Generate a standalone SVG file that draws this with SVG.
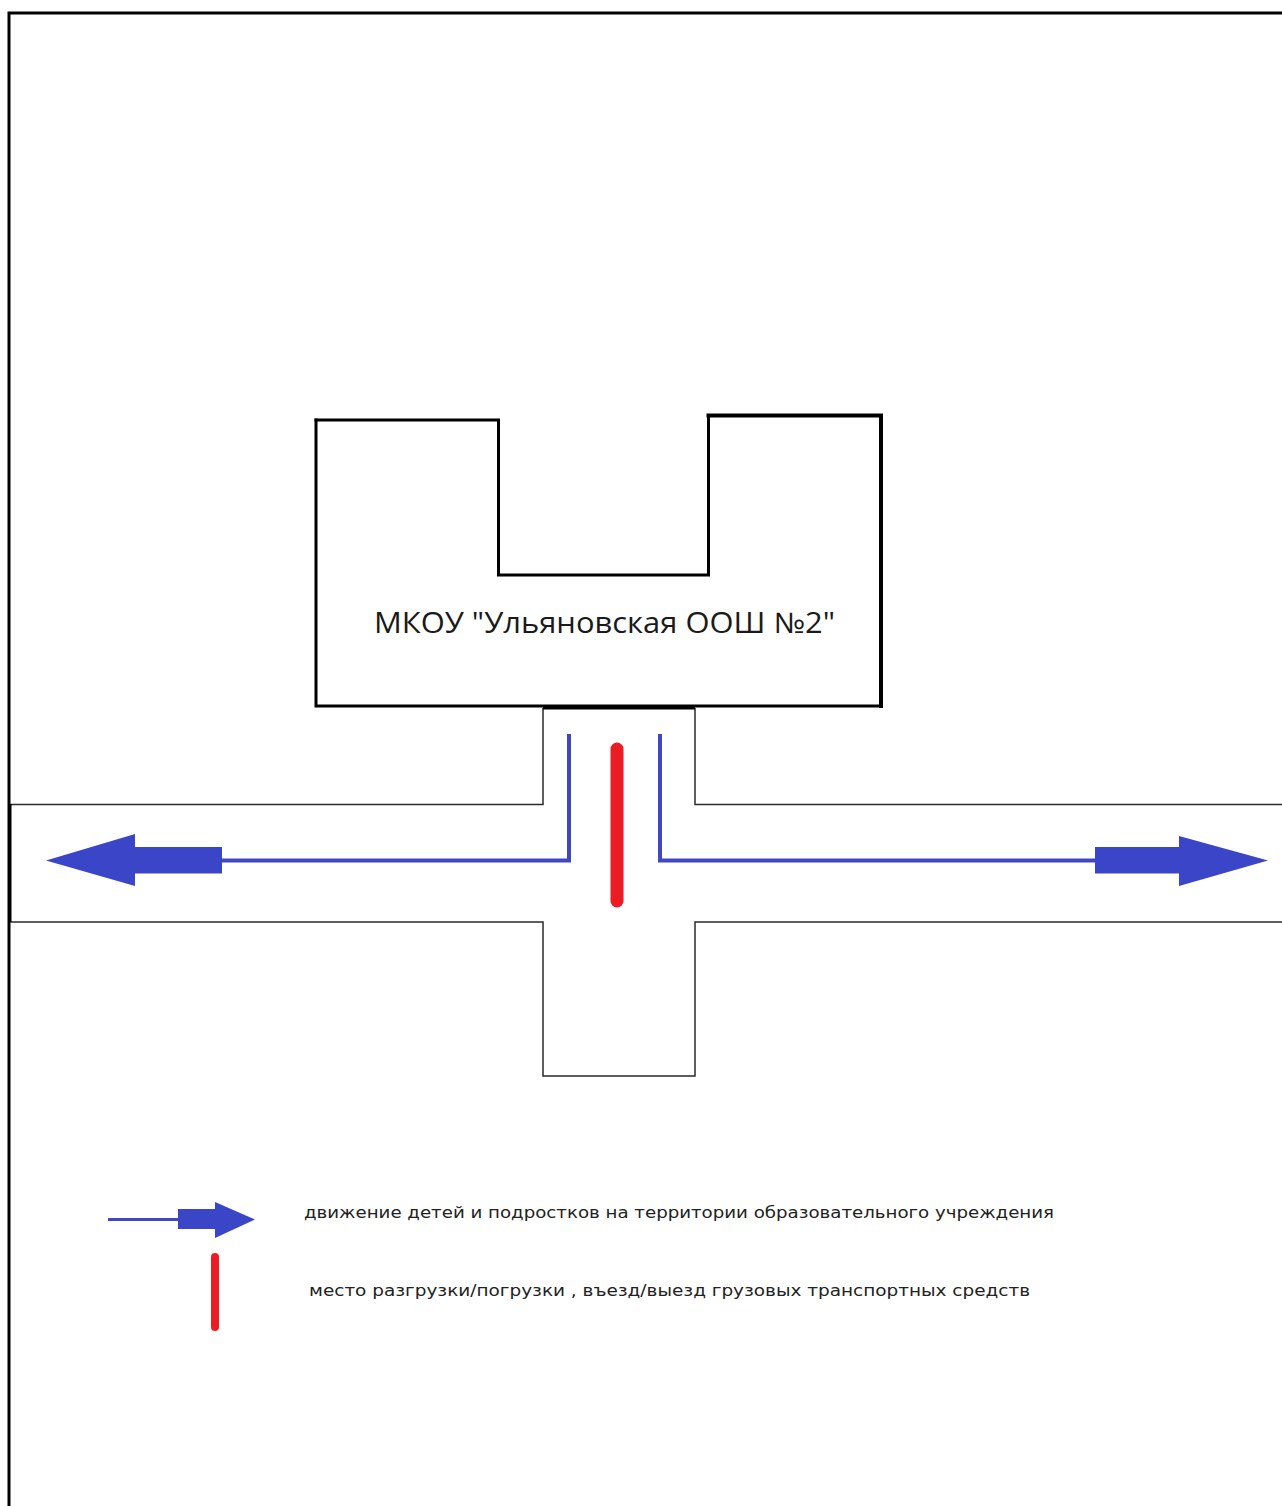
<svg xmlns="http://www.w3.org/2000/svg" width="1282" height="1506" viewBox="0 0 1282 1506">
<style>
.k{fill:none;stroke:#000;stroke-linejoin:miter;stroke-linecap:square}
.road{fill:none;stroke:#2a2a2a;stroke-width:1.5}
.bl{fill:none;stroke:#3f48c0;stroke-width:4}
.bf{fill:#3a45c8}
.red{fill:none;stroke:#ed1c24;stroke-linecap:round}
text{font-family:"Open Sans","Noto Sans",sans-serif;fill:#1a1a1a}
.lg{font-family:"DejaVu Sans","Noto Sans",sans-serif;font-size:16px;fill:#222}
</style>
<rect width="1282" height="1506" fill="#fff"/>
<g id="frame"><path class="k" stroke-width="3" d="M9 1506V13H1282"/></g>
<g id="road">
<path class="road" d="M10 804.500H543V708M695 708V804.500H1282M10 922H543V1076H695V922H1282"/>
<path d="M10.500 804V922" stroke="#000" stroke-width="2"/>
</g>
<g id="school">
<path class="k" stroke-width="3" d="M316 420H498.500V575H708.500V415.500"/>
<path class="k" stroke-width="4" d="M708.500 415.500H881V706"/>
<path class="k" stroke-width="3" d="M881 706H316V420"/>
<path d="M543 707.500H695" stroke="#000" stroke-width="4"/>
<text x="374" y="633" font-size="28.500" font-weight="500" textLength="461" lengthAdjust="spacingAndGlyphs">МКОУ "Ульяновская ООШ №2"</text>
</g>
<g id="connectors">
<path class="bl" d="M569 734V860.500H222"/>
<path class="bf" d="M46 860.500L135 834V847H222V873.500H135V886Z"/>
<path class="bl" d="M660 734V860.500H1095"/>
<path class="bf" d="M1268 860.500L1179 836V847H1095V873.500H1179V886Z"/>
<path class="red" stroke-width="13" d="M617 749V901"/>
</g>
<g id="legend-arrow">
<path d="M108 1219.500H178" stroke="#3f48c0" stroke-width="3"/>
<path class="bf" d="M255 1219.500L215 1202V1209H178V1229H215V1238Z"/>
<text class="lg" x="304" y="1218" textLength="750" lengthAdjust="spacingAndGlyphs">движение детей и подростков на территории образовательного учреждения</text>
</g>
<g id="legend-red">
<path class="red" stroke-width="8" d="M215 1257V1327"/>
<text class="lg" x="309" y="1296" textLength="721" lengthAdjust="spacingAndGlyphs">место разгрузки/погрузки , въезд/выезд грузовых транспортных средств</text>
</g>
</svg>
